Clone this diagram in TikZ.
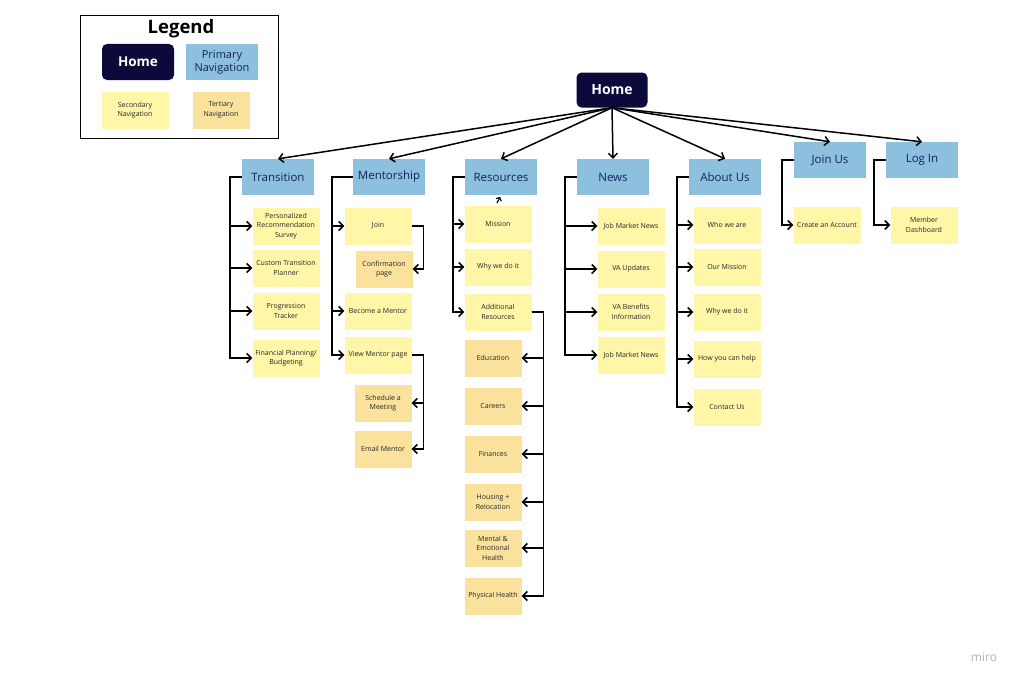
\documentclass[tikz,border=0pt]{standalone}
\usepackage{fontspec}
\setmainfont{Open Sans}
\usetikzlibrary{arrows.meta}
\definecolor{navy}{HTML}{0B0A3A}
\definecolor{primblue}{HTML}{8DC0DF}
\definecolor{primtext}{HTML}{15205A}
\definecolor{secyellow}{HTML}{FFF6A8}
\definecolor{teryellow}{HTML}{FAE29D}
\tikzset{
  homebox/.style={fill=navy, rounded corners=5pt, text=white, inner sep=0pt,
    font=\fontsize{14}{16}\selectfont\bfseries, minimum width=71, minimum height=35},
  primbox/.style={fill=primblue, text=primtext, inner sep=0pt, align=center,
    font=\fontsize{11.5}{13.5}\selectfont, minimum width=72, minimum height=36},
  secbox/.style={fill=secyellow, text=black!85, inner sep=0pt, align=center,
    font=\fontsize{7}{9.5}\selectfont, minimum width=67, minimum height=37},
  terbox/.style={secbox, fill=teryellow, minimum width=57},
  link/.style={line width=1.5pt, -{Straight Barb[length=4.5pt,width=9pt]}},
}
\begin{document}
\begin{tikzpicture}[x=1pt,y=-1pt]
\useasboundingbox[fill=white] (0,0) rectangle (1024,685);

% legend
\node[draw, line width=1pt, minimum width=198, minimum height=122] (legendbox) at (179,77) {};
\node[font=\fontsize{18.5}{20}\selectfont\bfseries] (legendtitle) at (181,29) {Legend};
\node[homebox, minimum width=72, minimum height=36, font=\fontsize{13.5}{15}\selectfont\bfseries] (lghome) at (138,62) {Home};
\node[primbox, font=\fontsize{11}{13}\selectfont] (lgprim) at (222,62) {Primary\\Navigation};
\node[secbox] (lgsec) at (135,110) {Secondary\\Navigation};
\node[terbox] (lgter) at (221,110) {Tertiary\\Navigation};

% home and primary navigation
\node[homebox] (home) at (612,90) {Home};
\node[primbox] (trans) at (278,177) {Transition};
\node[primbox] (mentor) at (389,177) {Mentorship};
\node[primbox] (res) at (501,177) {Resources};
\node[primbox] (news) at (613,177) {News};
\node[primbox] (about) at (725,177) {About Us};
\node[primbox] (joinus) at (830,160) {Join Us};
\node[primbox] (login) at (922,160) {Log In};

\foreach \p in {trans,mentor,res,news,about,joinus,login}
  \draw[link] (home.south) -- (\p.north);

% transition
\node[secbox] (survey) at (286,226) {Personalized\\Recommendation\\Survey};
\node[secbox] (planner) at (286,268) {Custom Transition\\Planner};
\node[secbox] (tracker) at (286,311) {Progression\\Tracker};
\node[secbox] (budget) at (286,358) {Financial Planning/\\Budgeting};
\foreach \c in {survey,planner,tracker,budget}
  \draw[link] (trans.west) -- ++(-12,0) |- (\c.west);

% mentorship
\node[secbox] (join) at (378,226) {Join};
\node[terbox] (confirm) at (384,269) {Confirmation\\page};
\node[secbox] (become) at (378,311) {Become a Mentor};
\node[secbox] (viewpage) at (378,355) {View Mentor page};
\node[terbox] (meeting) at (383,403) {Schedule a\\Meeting};
\node[terbox] (email) at (383,449) {Email Mentor};
\foreach \c in {join,become,viewpage}
  \draw[link] (mentor.west) -- ++(-21,0) |- (\c.west);
\draw[link] (join.east) -- ++(12,0) |- (confirm.east);
\foreach \c in {meeting,email}
  \draw[link] (viewpage.east) -- ++(12,0) |- (\c.east);

% resources
\node[secbox] (mission) at (498,224) {Mission};
\node[secbox] (why) at (498,267) {Why we do it};
\node[secbox] (addl) at (498,312) {Additional\\Resources};
\foreach \c in {mission,why,addl}
  \draw[link] (res.west) -- ++(-12,0) |- (\c.west);
\coordinate (stub) at (497,203);
\draw[line width=1.2pt, -{Straight Barb[length=2.5pt,width=6pt]}, shorten >=2pt] (stub) -- (res.south);
\node[terbox] (edu) at (493,358) {Education};
\node[terbox] (careers) at (493,406) {Careers};
\node[terbox] (finance) at (493,454) {Finances};
\node[terbox] (housing) at (493,502) {Housing +\\Relocation};
\node[terbox] (mental) at (493,548) {Mental \&\\Emotional\\Health};
\node[terbox] (physical) at (493,596) {Physical Health};
\foreach \c in {edu,careers,finance,housing,mental,physical}
  \draw[link] (addl.east) -- ++(12,0) |- (\c.east);

% news
\node[secbox] (jobnews) at (631,226) {Job Market News};
\node[secbox] (vaupd) at (631,269) {VA Updates};
\node[secbox] (vainfo) at (631,312) {VA Benefits\\Information};
\node[secbox] (jobnews2) at (631,355) {Job Market News};
\foreach \c in {jobnews,vaupd,vainfo,jobnews2}
  \draw[link] (news.west) -- ++(-12,0) |- (\c.west);

% about us
\node[secbox] (whoweare) at (727,225) {Who we are};
\node[secbox] (ourmission) at (727,267) {Our Mission};
\node[secbox] (whyabout) at (727,312) {Why we do it};
\node[secbox] (help) at (727,359) {How you can help};
\node[secbox] (contact) at (727,407) {Contact Us};
\foreach \c in {whoweare,ourmission,whyabout,help,contact}
  \draw[link] (about.west) -- ++(-12,0) |- (\c.west);

% join us, log in
\node[secbox] (account) at (827,225) {Create an Account};
\node[secbox] (dashboard) at (924,225) {Member\\Dashboard};
\draw[link] (joinus.west) -- ++(-12,0) |- (account.west);
\draw[link] (login.west) -- ++(-12,0) |- (dashboard.west);

\node[text=black!30, font=\fontsize{12}{14}\selectfont] (miro) at (984,657) {miro};
\end{tikzpicture}
\end{document}
